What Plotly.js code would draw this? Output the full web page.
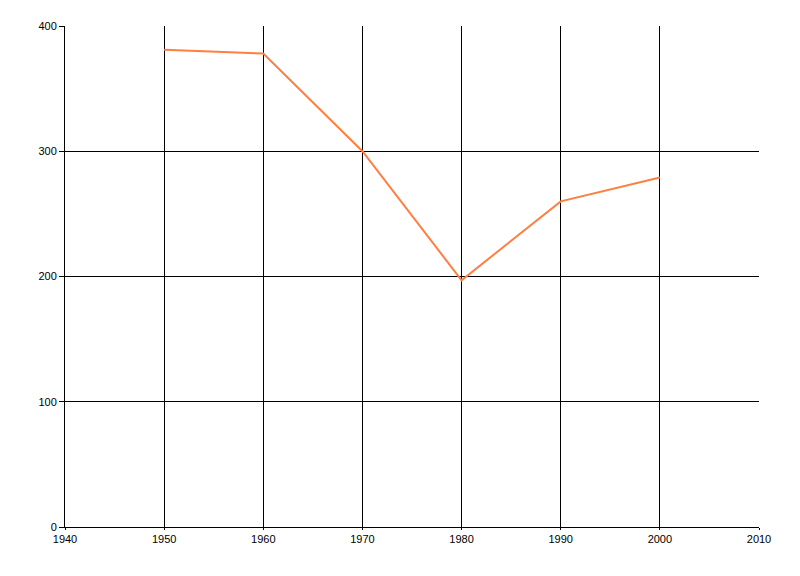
<!DOCTYPE html>
<html><head><meta charset="utf-8">
<script src="https://cdn.plot.ly/plotly-3.0.1.min.js"></script>
<style>html,body{margin:0;padding:0;background:#fff;}#chart{width:800px;height:576px;}</style>
</head><body><div id="chart"></div>
<script>
const years = [1950, 1960, 1970, 1980, 1990, 2000];
const values = [381, 378, 300, 197, 260, 279];
const xTicks = [1940, 1950, 1960, 1970, 1980, 1990, 2000, 2010];
const yTicks = [0, 100, 200, 300, 400];

Plotly.newPlot('chart', [{
  x: years, y: values, type: 'scatter', mode: 'lines',
  line: {color: '#FF7F40', width: 2}, hoverinfo: 'skip'
}], {
  width: 800, height: 576,
  margin: {l: 65, r: 41, t: 26, b: 49},
  paper_bgcolor: '#fff', plot_bgcolor: '#fff',
  showlegend: false,
  font: {family: 'Liberation Sans, Arial, sans-serif', size: 11, color: '#000'},
  xaxis: {range: [1940, 2010], tickvals: xTicks, ticktext: xTicks.map(String),
    showgrid: true, gridcolor: '#000', gridwidth: 1, zeroline: false,
    showline: true, linecolor: '#000', linewidth: 1,
    ticks: 'outside', ticklen: 2, tickcolor: '#000', tickfont: {size: 11}},
  yaxis: {range: [0, 400], tickvals: yTicks, ticktext: yTicks.map(String),
    showgrid: true, gridcolor: '#000', gridwidth: 1, zeroline: false,
    showline: true, linecolor: '#000', linewidth: 1,
    ticks: 'outside', ticklen: 5, tickcolor: '#000', tickfont: {size: 11}}
}, {staticPlot: true});
</script></body></html>
